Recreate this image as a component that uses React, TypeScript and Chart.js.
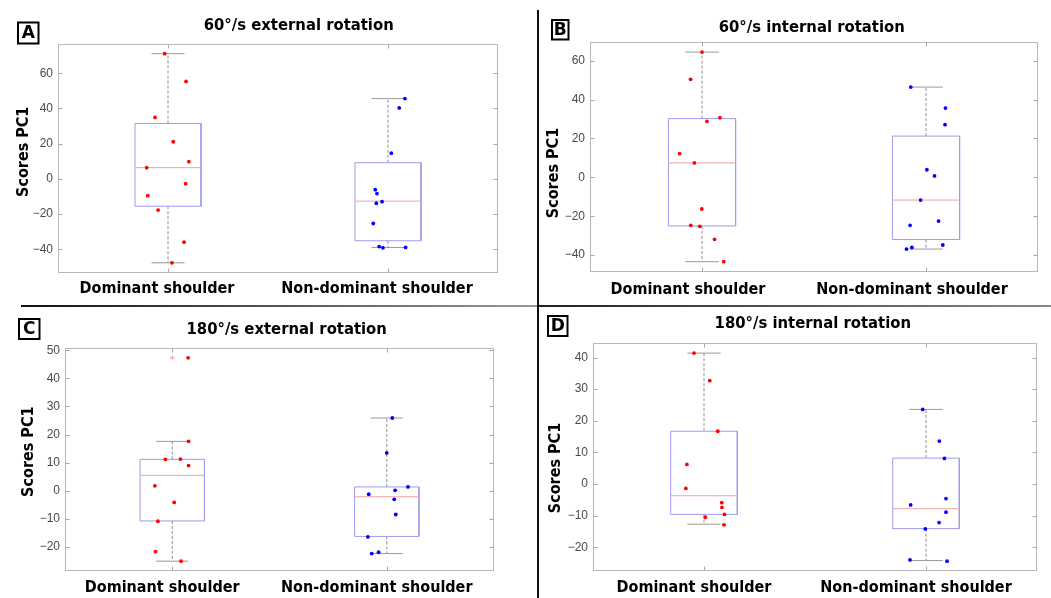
import React, { useEffect, useRef } from 'react';
import { Chart, registerables } from 'chart.js';

Chart.register(...registerables);

// ---------------- data ----------------
const categories = ['Dominant shoulder', 'Non-dominant shoulder'];
const categoryPositions = [1, 2];
const panelLetters = ['A', 'B', 'C', 'D'];
const panelTitles = [
  '60°/s external rotation',
  '60°/s internal rotation',
  '180°/s external rotation',
  '180°/s internal rotation',
];
const yAxisTitle = 'Scores PC1';

const yTicksA = [-40, -20, 0, 20, 40, 60];
const yTicksB = [-40, -20, 0, 20, 40, 60];
const yTicksC = [-20, -10, 0, 10, 20, 30, 40, 50];
const yTicksD = [-20, -10, 0, 10, 20, 30, 40];

const yRangeA = [-53.4, 76.6];
const yRangeB = [-48.7, 69.6];
const yRangeC = [-28.5, 50.8];
const yRangeD = [-27.5, 44.6];

// box statistics: [lower whisker, Q1, median, Q3, upper whisker]
const boxA_dom = [-47.6, -15.5, 6.4, 31.5, 71.1];
const boxA_non = [-38.9, -35.1, -12.6, 9.2, 45.6];
const boxB_dom = [-43.4, -25.0, 7.4, 30.2, 64.4];
const boxB_non = [-36.9, -32.0, -11.7, 21.2, 46.4];
const boxC_dom = [-25.0, -10.7, 5.5, 11.2, 17.6];
const boxC_non = [-22.3, -16.2, -2.1, 1.4, 25.9];
const boxD_dom = [-12.7, -9.6, -3.7, 16.7, 41.4];
const boxD_non = [-24.2, -14.1, -7.8, 8.2, 23.6];

// outliers (drawn as '+')
const outA_dom: number[] = [];
const outA_non: number[] = [];
const outB_dom: number[] = [];
const outB_non: number[] = [];
const outC_dom = [47.3];
const outC_non: number[] = [];
const outD_dom: number[] = [];
const outD_non: number[] = [];

// individual scores and their jittered x positions
const scoresA_dom = [71.1, 55.3, 34.9, 21.1, 9.8, 6.4, -2.7, -9.5, -17.7, -35.9, -47.6];
const jitterA_dom = [0.985, 1.082, 0.941, 1.024, 1.095, 0.903, 1.08, 0.908, 0.955, 1.073, 1.018];
const scoresA_non = [45.6, 40.3, 14.6, -6.1, -8.3, -13.8, -12.9, -25.3, -38.4, -39.1, -38.9];
const jitterA_non = [2.077, 2.051, 2.015, 1.942, 1.95, 1.947, 1.973, 1.933, 1.96, 1.977, 2.08];

const scoresB_dom = [64.4, 50.4, 28.8, 30.7, 12.2, 7.4, -16.3, -24.7, -25.2, -31.9, -43.4];
const jitterB_dom = [1.0, 0.949, 1.022, 1.08, 0.9, 0.966, 0.999, 0.95, 0.99, 1.056, 1.097];
const scoresB_non = [46.4, 35.6, 27.1, 3.9, 0.7, -11.7, -24.7, -22.5, -34.8, -36.9, -36.1];
const jitterB_non = [1.932, 2.087, 2.085, 2.004, 2.038, 1.976, 1.929, 2.056, 2.075, 1.913, 1.937];

const scoresC_dom = [47.3, 17.6, 11.2, 11.3, 9.0, 1.8, -4.1, -10.8, -21.6, -25.0];
const jitterC_dom = [1.074, 1.076, 0.968, 1.038, 1.076, 0.919, 1.009, 0.933, 0.922, 1.041];
const scoresC_non = [25.9, 13.5, -1.2, 0.2, 1.4, -3.0, -8.4, -16.4, -22.3, -21.8];
const jitterC_non = [2.026, 2.0, 1.916, 2.039, 2.099, 2.035, 2.042, 1.912, 1.93, 1.962];

const scoresD_dom = [41.4, 32.7, 16.7, 6.2, -1.4, -5.9, -7.4, -9.6, -10.5, -12.9];
const jitterD_dom = [0.955, 1.026, 1.062, 0.923, 0.918, 1.08, 1.081, 1.092, 1.006, 1.09];
const scoresD_non = [23.6, 13.6, 8.1, -4.6, -6.6, -8.9, -12.2, -14.2, -24.0, -24.4];
const jitterD_non = [1.985, 2.06, 2.083, 2.09, 1.931, 2.09, 2.059, 1.997, 1.928, 2.095];

// ---------------- layout / style ----------------
const BOLD_FAMILY = '"DejaVu Sans Condensed", "DejaVu Sans", Verdana, sans-serif';
const TICK_FAMILY = '"Liberation Sans", Arial, Helvetica, sans-serif';
const groupColors = ['#ff0000', '#0000ff'];
const BOX_COLOR = '#9c9cf0';
const MEDIAN_COLOR = '#f2a2a2';
const WHISKER_COLOR = '#8e8e8e';
const CAP_COLOR = '#9a9a9a';
const OUTLIER_COLOR = '#ff9a9a';
const BOX_HALF = 0.15;
const CAP_HALF = 0.075;

const layouts = [
  { left: 0, top: 0, width: 537, height: 305, padTop: 44, padRight: 39, yWidth: 58, xHeight: 32, xPad: 6, labelOffset: -11,
    titleX: 298.7, titleY: 26, letterBox: [18, 22.5, 20.5, 21], yLabelX: 24.3, yLabelY: 151.8 },
  { left: 539, top: 0, width: 512, height: 305, padTop: 42, padRight: 13, yWidth: 51, xHeight: 33, xPad: 8, labelOffset: -14,
    titleX: 272.7, titleY: 27.3, letterBox: [13, 20, 16.5, 19.5], yLabelX: 15.2, yLabelY: 173 },
  { left: 0, top: 307, width: 537, height: 291, padTop: 41, padRight: 43, yWidth: 65, xHeight: 27, xPad: 7, labelOffset: -10,
    titleX: 286.7, titleY: 22.7, letterBox: [19, 12, 20.5, 20], yLabelX: 29.2, yLabelY: 144.7 },
  { left: 539, top: 307, width: 512, height: 291, padTop: 36, padRight: 14, yWidth: 54, xHeight: 27, xPad: 7, labelOffset: -10,
    titleX: 273.8, titleY: 17.2, letterBox: [9, 9, 19.5, 20], yLabelX: 17.3, yLabelY: 161 },
];

const panels = [
  { letter: panelLetters[0], title: panelTitles[0], range: yRangeA, ticks: yTicksA,
    boxes: [boxA_dom, boxA_non], scores: [scoresA_dom, scoresA_non], jitter: [jitterA_dom, jitterA_non], outliers: [outA_dom, outA_non] },
  { letter: panelLetters[1], title: panelTitles[1], range: yRangeB, ticks: yTicksB,
    boxes: [boxB_dom, boxB_non], scores: [scoresB_dom, scoresB_non], jitter: [jitterB_dom, jitterB_non], outliers: [outB_dom, outB_non] },
  { letter: panelLetters[2], title: panelTitles[2], range: yRangeC, ticks: yTicksC,
    boxes: [boxC_dom, boxC_non], scores: [scoresC_dom, scoresC_non], jitter: [jitterC_dom, jitterC_non], outliers: [outC_dom, outC_non] },
  { letter: panelLetters[3], title: panelTitles[3], range: yRangeD, ticks: yTicksD,
    boxes: [boxD_dom, boxD_non], scores: [scoresD_dom, scoresD_non], jitter: [jitterD_dom, jitterD_non], outliers: [outD_dom, outD_non] },
];

const fmtTick = (v: number) => (v < 0 ? '\u2212' + Math.abs(v) : String(v));

const decoPlugin = {
  id: 'panelDeco',
  beforeDatasetsDraw(chart: any) {
    const { ctx, chartArea: a, scales } = chart;
    ctx.save();
    const l = Math.round(a.left) + 0.5;
    const r = Math.round(a.right) - 0.5;
    const t = Math.round(a.top) + 0.5;
    const b = Math.round(a.bottom) - 0.5;
    ctx.strokeStyle = '#b8b8b8';
    ctx.lineWidth = 1;
    ctx.strokeRect(l, t, r - l, b - t);
    ctx.strokeStyle = '#a8a8a8';
    ctx.beginPath();
    scales.y.ticks.forEach((tk: any) => {
      const y = Math.round(scales.y.getPixelForValue(tk.value)) + 0.5;
      ctx.moveTo(l, y); ctx.lineTo(l + 4, y);
      ctx.moveTo(r, y); ctx.lineTo(r - 4, y);
    });
    scales.x.ticks.forEach((tk: any) => {
      const x = Math.round(scales.x.getPixelForValue(tk.value)) + 0.5;
      ctx.moveTo(x, t); ctx.lineTo(x, t + 4);
      ctx.moveTo(x, b); ctx.lineTo(x, b - 4);
    });
    ctx.stroke();
    ctx.restore();
  },
  afterDraw(chart: any, _args: any, opts: any) {
    const { ctx } = chart;
    ctx.save();
    ctx.fillStyle = '#000';
    // title
    ctx.font = `bold 16.5px ${BOLD_FAMILY}`;
    ctx.textAlign = 'center';
    ctx.textBaseline = 'middle';
    ctx.fillText(opts.title, opts.titleX, opts.titleY);
    // panel letter in box
    const [bx, by, bw, bh] = opts.letterBox;
    ctx.fillStyle = '#fff';
    ctx.fillRect(bx, by, bw, bh);
    ctx.strokeStyle = '#000';
    ctx.lineWidth = 2;
    ctx.strokeRect(bx, by, bw, bh);
    ctx.fillStyle = '#000';
    ctx.font = `bold 17px "DejaVu Sans", Verdana, sans-serif`;
    ctx.fillText(opts.letter, bx + bw / 2, by + bh / 2 + 1);
    // y axis label
    ctx.translate(opts.yLabelX, opts.yLabelY);
    ctx.rotate(-Math.PI / 2);
    ctx.font = `bold 16px ${BOLD_FAMILY}`;
    ctx.fillText(opts.yLabel, 0, 0);
    ctx.restore();
  },
};

function buildDatasets(p: any) {
  const pts: any[] = [];
  const marks: any[] = [];
  p.boxes.forEach((s: number[], gi: number) => {
    const c = categoryPositions[gi];
    const [wLo, q1, med, q3, wHi] = s;
    pts.push({
      data: p.scores[gi].map((v: number, i: number) => ({ x: p.jitter[gi][i], y: v })),
      pointRadius: 1.9,
      pointBackgroundColor: groupColors[gi],
      pointBorderWidth: 0,
      showLine: false,
    });
    if (p.outliers[gi].length) {
      marks.push({
        data: p.outliers[gi].map((v: number) => ({ x: c, y: v })),
        pointStyle: 'cross',
        pointRadius: 2.5,
        pointBorderColor: OUTLIER_COLOR,
        pointBorderWidth: 1,
        showLine: false,
      });
    }
    const line = (data: any[], color: string, dash: number[] = []) => ({
      data,
      showLine: true,
      borderColor: color,
      borderWidth: 1,
      borderDash: dash,
      pointRadius: 0,
      fill: false,
      tension: 0,
    });
    marks.push(line([{ x: c - BOX_HALF, y: med }, { x: c + BOX_HALF, y: med }], MEDIAN_COLOR));
    marks.push(line([
      { x: c - BOX_HALF, y: q1 }, { x: c - BOX_HALF, y: q3 }, { x: c + BOX_HALF, y: q3 },
      { x: c + BOX_HALF, y: q1 }, { x: c - BOX_HALF, y: q1 },
    ], BOX_COLOR));
    marks.push(line([{ x: c, y: q3 }, { x: c, y: wHi }], WHISKER_COLOR, [3, 2]));
    marks.push(line([{ x: c, y: q1 }, { x: c, y: wLo }], WHISKER_COLOR, [3, 2]));
    marks.push(line([{ x: c - CAP_HALF, y: wHi }, { x: c + CAP_HALF, y: wHi }], CAP_COLOR));
    marks.push(line([{ x: c - CAP_HALF, y: wLo }, { x: c + CAP_HALF, y: wLo }], CAP_COLOR));
  });
  return [...pts, ...marks];
}

function Panel({ p, L }: { p: any; L: any }) {
  const ref = useRef<HTMLCanvasElement>(null);
  useEffect(() => {
    const canvas = ref.current!;
    const chart = new Chart(canvas, {
      type: 'scatter',
      data: { datasets: buildDatasets(p) },
      options: {
        animation: false,
        responsive: false,
        devicePixelRatio: 1,
        layout: { padding: { top: L.padTop, right: L.padRight, left: 0, bottom: 0 } },
        plugins: {
          legend: { display: false },
          tooltip: { enabled: false },
          title: { display: false },
          panelDeco: {
            title: p.title, letter: p.letter, yLabel: yAxisTitle,
            titleX: L.titleX, titleY: L.titleY, letterBox: L.letterBox,
            yLabelX: L.yLabelX, yLabelY: L.yLabelY,
          },
        } as any,
        scales: {
          x: {
            type: 'linear',
            min: 0.5,
            max: 2.5,
            grid: { display: false, drawTicks: false },
            border: { display: false },
            afterBuildTicks: (s: any) => { s.ticks = categoryPositions.map((v) => ({ value: v })); },
            afterFit: (s: any) => { s.height = L.xHeight; },
            ticks: {
              callback: (v: any) => categories[categoryPositions.indexOf(Number(v))] ?? '',
              font: { family: BOLD_FAMILY, size: 16, weight: 'bold' },
              color: '#000',
              padding: L.xPad,
              labelOffset: L.labelOffset,
              autoSkip: false,
              maxRotation: 0,
              minRotation: 0,
            },
          },
          y: {
            type: 'linear',
            min: p.range[0],
            max: p.range[1],
            grid: { display: false, drawTicks: false },
            border: { display: false },
            afterBuildTicks: (s: any) => { s.ticks = p.ticks.map((v: number) => ({ value: v })); },
            afterFit: (s: any) => { s.width = L.yWidth; },
            ticks: {
              callback: (v: any) => fmtTick(Number(v)),
              color: '#4a4a4a',
              font: { family: TICK_FAMILY, size: 12 },
              padding: 5,
            },
          },
        },
      } as any,
      plugins: [decoPlugin as any],
    });
    return () => chart.destroy();
  }, []);
  return (
    <canvas
      ref={ref}
      width={L.width}
      height={L.height}
      style={{ position: 'absolute', left: L.left, top: L.top, width: L.width, height: L.height }}
    />
  );
}

export default function App() {
  return (
    <div style={{ position: 'fixed', left: 0, top: 0, width: 1051, height: 598, background: '#fff', overflow: 'hidden' }}>
      {panels.map((p, i) => (
        <Panel key={i} p={p} L={layouts[i]} />
      ))}
      <div style={{ position: 'absolute', left: 21, top: 305, width: 516, height: 2, background: 'linear-gradient(to right, #111, #999)' }} />
      <div style={{ position: 'absolute', left: 539, top: 305, width: 512, height: 2, background: 'linear-gradient(to right, #222, #888)' }} />
      <div style={{ position: 'absolute', left: 537, top: 10, width: 2, height: 588, background: '#111' }} />
    </div>
  );
}
